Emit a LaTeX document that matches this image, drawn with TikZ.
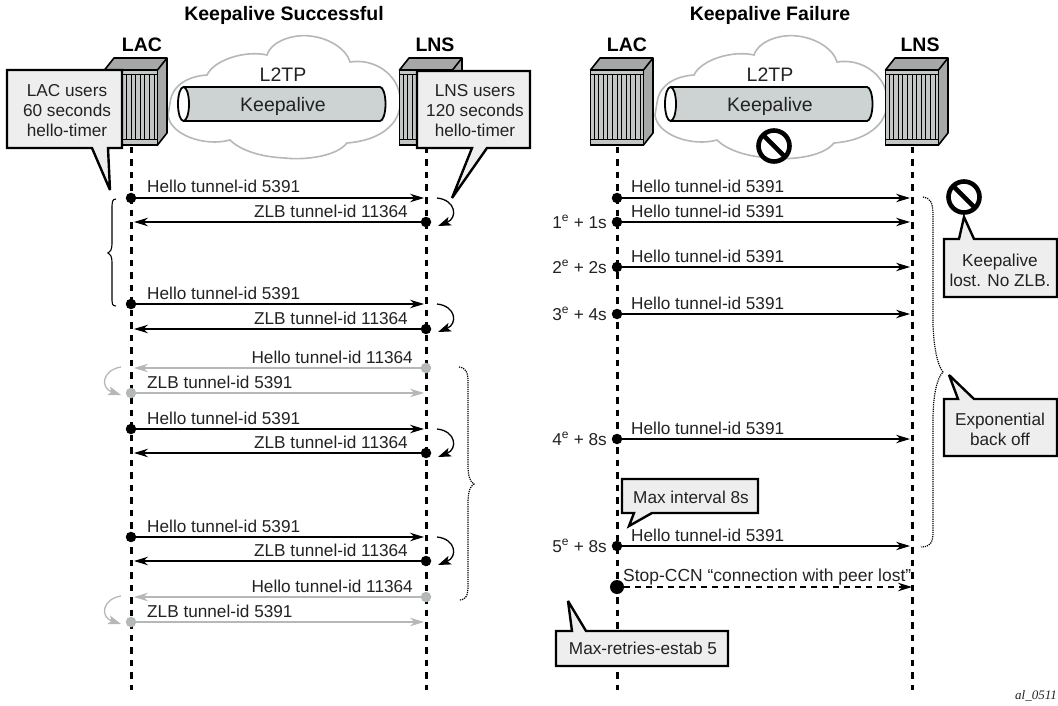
\documentclass[tikz,border=0pt]{standalone}
\usepackage{fontspec}
\setmainfont{Liberation Sans}
\newfontfamily\idfont{Liberation Serif}
\usetikzlibrary{arrows.meta,calc}

\definecolor{faded}{HTML}{B4B8B6}
\definecolor{boxfill}{HTML}{EEEEEE}
\definecolor{pipefill}{HTML}{CDD3D2}
\definecolor{rackfront}{HTML}{C4C6C6}
\definecolor{rackside}{HTML}{A6A8A8}
\definecolor{txt}{HTML}{222222}

\tikzset{
    msg/.style={draw=black, line width=1.2pt, -{Stealth[length=14pt,width=8.5pt,inset=4.5pt]}},
    msggrey/.style={msg, draw=faded},
    dot/.style={circle, fill=black, inner sep=0pt, minimum size=10.5pt},
    dotgrey/.style={dot, fill=faded},
    lifeline/.style={line width=3pt, dash pattern=on 6.5pt off 6pt},
    msgtext/.style={text=txt, font=\fontsize{17.2}{20}\selectfont, inner sep=0pt},
    headtext/.style={text=black, font=\fontsize{19.5}{22}\selectfont\bfseries, inner sep=0pt},
    cloudtext/.style={text=txt, font=\fontsize{19.5}{22}\selectfont, inner sep=0pt},
    bubble/.style={fill=boxfill, draw=black, line width=2.4pt, line join=miter, miter limit=4},
    turnback/.style={line width=1.3pt, -{Stealth[length=13pt,width=9pt,inset=3pt]}},
}

% one rack, centred on its lifeline
\newcommand{\rack}[1]{
    \draw[fill=rackside, line width=1.6pt, line join=round] (#1-26.5,70) -- (#1-17,58) -- (#1+36,58) -- (#1+36,133) -- (#1+26.5,145) -- cycle;
    \draw[line width=1.6pt] (#1+26.5,70) -- (#1+36,58);
    \draw[fill=rackfront, line width=1.6pt] (#1-26.5,70) rectangle (#1+26.5,145);
    \draw[line width=.8pt] (#1-26.5,74.5) -- (#1+26.5,74.5) (#1-26.5,139) -- (#1+26.5,139);
    \foreach \stripe in {-23,-18.4,...,24}
        \draw[line width=1pt] (#1+\stripe,74.5) -- (#1+\stripe,139);
}

% the cloud with its pipe, shifted by #1
\newcommand{\tunnel}[1]{
    \begin{scope}[xshift=#1]
    \draw[draw=faded, fill=white, line width=1.6pt]
        (170,103) .. controls (172,84) and (190,76) .. (207,75)
        .. controls (214,60) and (245,50) .. (267,55)
        .. controls (272,40) and (295,34) .. (310,36)
        .. controls (330,38) and (347,50) .. (350,62)
        .. controls (375,58) and (398,75) .. (400,97)
        .. controls (403,120) and (385,140) .. (347,143)
        .. controls (335,158) and (300,160) .. (285,158)
        .. controls (260,157) and (240,150) .. (230,140)
        .. controls (205,147) and (170,135) .. (168,115) -- cycle;
    \draw[fill=pipefill, line width=1.8pt] (184,87) -- (380,87) arc[start angle=-90, end angle=90, x radius=5.5, y radius=17] -- (184,121) -- cycle;
    \draw[fill=white, line width=1.8pt] (183.5,104) ellipse[x radius=5.5, y radius=17];
    \node[cloudtext] at (283,75) {L2TP};
    \node[cloudtext] at (283,106) {Keepalive};
    \end{scope}
}

% forbidden sign
\newcommand{\nogo}[2]{
    \draw[line width=4.6pt, fill=white] (#1,#2) circle (15.5);
    \draw[line width=4.6pt] (#1-11,#2-11) -- (#1+11,#2+11);
}

\begin{document}
\begin{tikzpicture}[x=1pt,y=-1pt]
    \useasboundingbox (0,0) rectangle (1058,706);

    % Titles
    \node[headtext] (titleok) at (284,15) {Keepalive Successful};
    \node[headtext] (titlefail) at (770,15) {Keepalive Failure};

    \tunnel{0}
    \tunnel{487}
    \rack{131}
    \rack{426}
    \rack{617}
    \rack{912}
    \node[headtext] (lacok) at (142,45) {LAC};
    \node[headtext] (lnsok) at (435,45) {LNS};
    \node[headtext] (lacfail) at (627,45) {LAC};
    \node[headtext] (lnsfail) at (920,45) {LNS};

    % The lifelines
    \foreach \name/\xx in {a/131,b/426,c/617,d/912}
    {
        \coordinate (\name top) at (\xx,147);
        \coordinate (\name end) at (\xx,690);
        \draw[lifeline] (\name top) -- (\name end);
    }

    % Left side, black messages
    \foreach \yy in {198,304,429,537}
    {
        \node[dot] (ah\yy) at (131,\yy) {};
        \coordinate (bh\yy) at (424,\yy);
        \draw[msg] (ah\yy) -- (bh\yy);
        \node[msgtext, anchor=base west] at (147,\yy-5) {Hello tunnel-id 5391};
    }
    \foreach \yy in {222,329,453,561}
    {
        \node[dot] (bz\yy) at (426,\yy) {};
        \coordinate (az\yy) at (134,\yy);
        \draw[msg] (bz\yy) -- (az\yy);
        \node[msgtext, anchor=base east] at (408,\yy-5) {ZLB tunnel-id 11364};
    }

    % Left side, grey messages
    \foreach \yy in {368,597}
    {
        \node[dotgrey] (bg\yy) at (426,\yy) {};
        \coordinate (ag\yy) at (134,\yy);
        \draw[msggrey] (bg\yy) -- (ag\yy);
        \node[msgtext, anchor=base east] at (413,\yy-5) {Hello tunnel-id 11364};
    }
    \foreach \yy in {393,622}
    {
        \node[dotgrey] (ar\yy) at (131,\yy) {};
        \coordinate (br\yy) at (424,\yy);
        \draw[msggrey] (ar\yy) -- (br\yy);
        \node[msgtext, anchor=base west] at (147,\yy-5) {ZLB tunnel-id 5391};
    }

    % Turn arrows
    \foreach \yy in {198,304,429,537}
        \draw[turnback] (437,\yy) .. controls (456,\yy+2) and (458,\yy+20) .. (438,\yy+28);
    \foreach \yy in {368,597}
        \draw[turnback, draw=faded] (121,\yy-1) .. controls (102,\yy+2) and (100,\yy+20) .. (121,\yy+27);

    % Braces
    \draw[line width=1.1pt] (116,199) .. controls (112,199) and (112,202) .. (112,210) -- (112,244) .. controls (112,250) and (110,252) .. (108,253) .. controls (110,254) and (112,256) .. (112,262) -- (112,297) .. controls (112,304) and (112,306) .. (116,306);
    \draw[line width=1.2pt, densely dotted] (459,367) .. controls (466,368) and (468,372) .. (468,382) -- (468,465) .. controls (468,476) and (470,482) .. (474,484) .. controls (470,486) and (468,492) .. (468,503) -- (468,585) .. controls (468,596) and (466,600) .. (459,600);
    \draw[line width=1.2pt, densely dotted] (923,197) .. controls (930,198) and (933,202) .. (933,215) -- (933,325) .. controls (934,350) and (938,366) .. (943,372) .. controls (937,378) and (933,395) .. (933,420) -- (933,532) .. controls (933,543) and (930,547) .. (921,547);

    % Right side messages
    \foreach \yy/\lab in {198/,222/1\textsuperscript{e} + 1s,267/2\textsuperscript{e} + 2s,314/3\textsuperscript{e} + 4s,439/4\textsuperscript{e} + 8s,546/5\textsuperscript{e} + 8s}
    {
        \node[dot] (cm\yy) at (617,\yy) {};
        \coordinate (dm\yy) at (910,\yy);
        \draw[msg] (cm\yy) -- (dm\yy);
        \node[msgtext, anchor=base west] at (631,\yy-5) {Hello tunnel-id 5391};
        \node[msgtext, anchor=base east] at (607,\yy+6) {\lab};
    }
    \node[dot, minimum size=14pt] (cstop) at (617,587) {};
    \coordinate (dstop) at (912,587);
    \draw[msg, line width=1.6pt, dash pattern=on 6pt off 5pt] (cstop) -- (dstop);
    \node[msgtext, anchor=base west, font=\fontsize{17.45}{20}\selectfont] (stoptext) at (623,581) {Stop-CCN “connection with peer lost”};

    % Callouts
    \draw[bubble] (7,70) -- (122,70) -- (122,148) -- (108,148) -- (110,190) -- (92,148) -- (7,148) -- cycle;
    \node[msgtext, align=center] (lacnote) at (67,111) {LAC users\\60 seconds\\hello-timer};
    \draw[bubble] (417,71) -- (530,71) -- (530,148) -- (487,148) -- (452,198) -- (472,148) -- (417,148) -- cycle;
    \node[msgtext, align=center] (lnsnote) at (475,111) {LNS users\\120 seconds\\hello-timer};
    \draw[bubble] (944,239) -- (959,239) -- (964,217) -- (974,239) -- (1057,239) -- (1057,297) -- (944,297) -- cycle;
    \node[msgtext, align=center] (lostnote) at (1000,270) {Keepalive\\lost. No ZLB.};
    \draw[bubble] (944,399) -- (958,399) -- (949,375) -- (974,399) -- (1057,399) -- (1057,456) -- (944,456) -- cycle;
    \node[msgtext, align=center] (backnote) at (1000,429) {Exponential\\back off};
    \draw[bubble] (622,479) -- (758,479) -- (758,513) -- (652,513) -- (629,526) -- (634,513) -- (622,513) -- cycle;
    \node[msgtext] (maxnote) at (691,497) {Max interval 8s};
    \draw[bubble] (556,631) -- (572,631) -- (568,601) -- (586,631) -- (728,631) -- (728,666) -- (556,666) -- cycle;
    \node[msgtext] (retrynote) at (643,648) {Max-retries-estab 5};

    \nogo{774}{146}
    \nogo{964}{197}

    \node[msgtext, anchor=east, font=\fontsize{13}{15}\selectfont\idfont\itshape] (figid) at (1057,696) {al\_0511};
\end{tikzpicture}
\end{document}
